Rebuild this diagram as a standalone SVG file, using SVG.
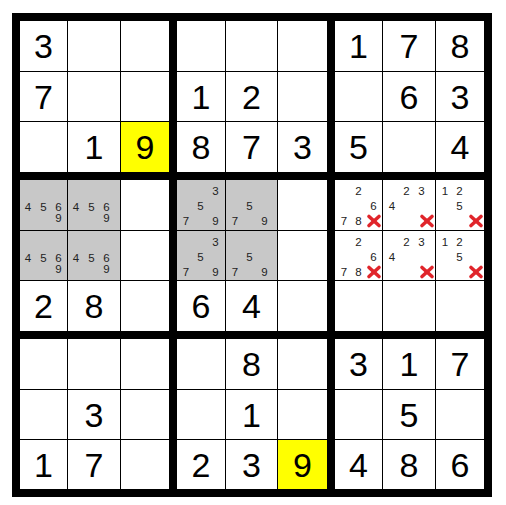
<svg xmlns="http://www.w3.org/2000/svg" width="506" height="505" viewBox="0 0 506 505">
<style>
.big{font-family:"Liberation Sans",Arial,sans-serif;font-size:34px;fill:#000;text-anchor:middle}
.c{font-family:"Liberation Sans",Arial,sans-serif;font-size:11.5px;fill:#222;text-anchor:middle}
.thin{stroke:#000;stroke-width:1}
.x{stroke:#E0252B;stroke-width:3.6;stroke-linecap:round}
</style>
<defs>
<g id="xm"><line class="x" x1="-5" y1="-4.5" x2="5" y2="4.5"/><line class="x" x1="-5" y1="4.5" x2="5" y2="-4.5"/></g>
</defs>
<rect width="506" height="505" fill="#fff"/>
<g id="fills">
<rect x="20" y="180" width="100" height="100" fill="#C8C8C8"/>
<rect x="177" y="180" width="100" height="100" fill="#C8C8C8"/>
<rect x="120" y="121" width="50" height="52" fill="#FFFF00"/>
<rect x="277" y="439" width="51" height="51" fill="#FFFF00"/>
</g>
<g id="grid">
<line class="thin" x1="67.5" y1="13" x2="67.5" y2="497"/>
<line class="thin" x1="120.5" y1="13" x2="120.5" y2="497"/>
<line class="thin" x1="225.5" y1="13" x2="225.5" y2="497"/>
<line class="thin" x1="277.5" y1="13" x2="277.5" y2="497"/>
<line class="thin" x1="382.5" y1="13" x2="382.5" y2="497"/>
<line class="thin" x1="435.5" y1="13" x2="435.5" y2="497"/>
<line class="thin" x1="12" y1="71.5" x2="492" y2="71.5"/>
<line class="thin" x1="12" y1="121.5" x2="492" y2="121.5"/>
<line class="thin" x1="12" y1="230.5" x2="492" y2="230.5"/>
<line class="thin" x1="12" y1="280.5" x2="492" y2="280.5"/>
<line class="thin" x1="12" y1="389.5" x2="492" y2="389.5"/>
<line class="thin" x1="12" y1="439.5" x2="492" y2="439.5"/>
<rect x="12" y="13" width="8" height="484"/>
<rect x="169" y="13" width="8" height="484"/>
<rect x="327" y="13" width="8" height="484"/>
<rect x="484" y="13" width="8" height="484"/>
<rect x="12" y="13" width="480" height="8"/>
<rect x="12" y="172" width="480" height="8"/>
<rect x="12" y="331" width="480" height="8"/>
<rect x="12" y="489" width="480" height="8"/>
</g>
<g id="givens">
<text class="big" x="43.5" y="58">3</text>
<text class="big" x="358.5" y="58">1</text>
<text class="big" x="409" y="58">7</text>
<text class="big" x="460" y="58">8</text>
<text class="big" x="43.5" y="108.5">7</text>
<text class="big" x="201" y="108.5">1</text>
<text class="big" x="251.5" y="108.5">2</text>
<text class="big" x="409" y="108.5">6</text>
<text class="big" x="460" y="108.5">3</text>
<text class="big" x="94" y="159">1</text>
<text class="big" x="145" y="159">9</text>
<text class="big" x="201" y="159">8</text>
<text class="big" x="251.5" y="159">7</text>
<text class="big" x="302.5" y="159">3</text>
<text class="big" x="358.5" y="159">5</text>
<text class="big" x="460" y="159">4</text>
<text class="big" x="43.5" y="318">2</text>
<text class="big" x="94" y="318">8</text>
<text class="big" x="201" y="318">6</text>
<text class="big" x="251.5" y="318">4</text>
<text class="big" x="251.5" y="376">8</text>
<text class="big" x="358.5" y="376">3</text>
<text class="big" x="409" y="376">1</text>
<text class="big" x="460" y="376">7</text>
<text class="big" x="94" y="426.5">3</text>
<text class="big" x="251.5" y="426.5">1</text>
<text class="big" x="409" y="426.5">5</text>
<text class="big" x="43.5" y="476.5">1</text>
<text class="big" x="94" y="476.5">7</text>
<text class="big" x="201" y="476.5">2</text>
<text class="big" x="251.5" y="476.5">3</text>
<text class="big" x="302.5" y="476.5">9</text>
<text class="big" x="358.5" y="476.5">4</text>
<text class="big" x="409" y="476.5">8</text>
<text class="big" x="460" y="476.5">6</text>
</g>
<g id="r3c0"><text class="c" x="28" y="210.5">4</text><text class="c" x="43.5" y="210.5">5</text><text class="c" x="58.5" y="210.5">6</text><text class="c" x="58.5" y="222">9</text></g>
<g id="r3c1"><text class="c" x="76" y="210.5">4</text><text class="c" x="91.5" y="210.5">5</text><text class="c" x="106.5" y="210.5">6</text><text class="c" x="106.5" y="222">9</text></g>
<g id="r4c0"><text class="c" x="28" y="261.5">4</text><text class="c" x="43.5" y="261.5">5</text><text class="c" x="58.5" y="261.5">6</text><text class="c" x="58.5" y="273">9</text></g>
<g id="r4c1"><text class="c" x="76" y="261.5">4</text><text class="c" x="91.5" y="261.5">5</text><text class="c" x="106.5" y="261.5">6</text><text class="c" x="106.5" y="273">9</text></g>
<g id="r3c3"><text class="c" x="215.5" y="194.5">3</text><text class="c" x="200.5" y="209.5">5</text><text class="c" x="186" y="225">7</text><text class="c" x="215.5" y="225">9</text></g>
<g id="r4c3"><text class="c" x="215.5" y="245.5">3</text><text class="c" x="200.5" y="260.5">5</text><text class="c" x="186" y="276">7</text><text class="c" x="215.5" y="276">9</text></g>
<g id="r3c4"><text class="c" x="249.5" y="209.5">5</text><text class="c" x="235" y="225">7</text><text class="c" x="264.5" y="225">9</text></g>
<g id="r4c4"><text class="c" x="249.5" y="260.5">5</text><text class="c" x="235" y="276">7</text><text class="c" x="264.5" y="276">9</text></g>
<g id="r3c6"><text class="c" x="358.5" y="194.5">2</text><text class="c" x="373.5" y="209.5">6</text><text class="c" x="344" y="225">7</text><text class="c" x="358.5" y="225">8</text><use href="#xm" x="374" y="221"/></g>
<g id="r4c6"><text class="c" x="358.5" y="245.5">2</text><text class="c" x="373.5" y="260.5">6</text><text class="c" x="344" y="276">7</text><text class="c" x="358.5" y="276">8</text><use href="#xm" x="374" y="272"/></g>
<g id="r3c7"><text class="c" x="406.5" y="194.5">2</text><text class="c" x="421.5" y="194.5">3</text><text class="c" x="392" y="209.5">4</text><use href="#xm" x="427" y="221"/></g>
<g id="r4c7"><text class="c" x="406.5" y="245.5">2</text><text class="c" x="421.5" y="245.5">3</text><text class="c" x="392" y="260.5">4</text><use href="#xm" x="427" y="272"/></g>
<g id="r3c8"><text class="c" x="445" y="194.5">1</text><text class="c" x="459.5" y="194.5">2</text><text class="c" x="459.5" y="209.5">5</text><use href="#xm" x="476" y="221"/></g>
<g id="r4c8"><text class="c" x="445" y="245.5">1</text><text class="c" x="459.5" y="245.5">2</text><text class="c" x="459.5" y="260.5">5</text><use href="#xm" x="476" y="272"/></g>
</svg>
